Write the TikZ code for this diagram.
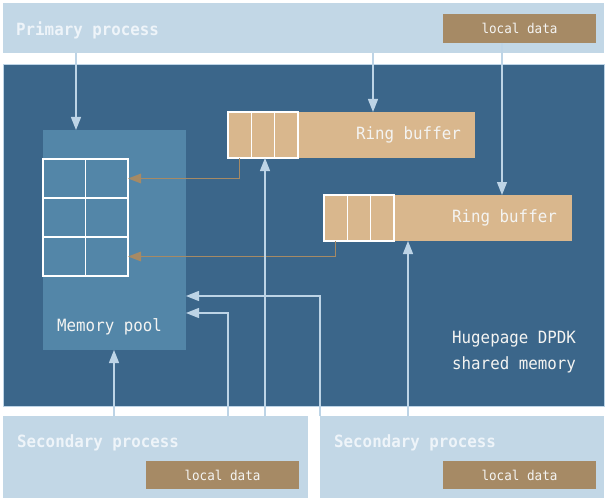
\documentclass[tikz,border=0pt]{standalone}
\usepackage{fontspec}
\setmonofont[FakeStretch=0.935]{DejaVu Sans Mono}
\usetikzlibrary{arrows.meta}
\definecolor{procblue}{HTML}{C2D7E6}
\definecolor{shmem}{HTML}{3B668A}
\definecolor{poolblue}{HTML}{5386A8}
\definecolor{ringtan}{HTML}{D9B78D}
\definecolor{localbrown}{HTML}{A68A65}
\definecolor{arrowblue}{HTML}{BDD4E6}
\definecolor{txt}{HTML}{F4F4F2}
\definecolor{ptxt}{HTML}{EEF4F9}
\begin{document}
\begin{tikzpicture}[x=1pt,y=-1pt,
  box/.style={rectangle, draw=none, inner sep=0pt, outer sep=0pt, anchor=north west},
  cellbox/.style={box, draw=white, line width=1.2pt},
  bigtxt/.style={inner sep=0pt, text=txt, font=\ttfamily\fontsize{16.9}{20}\selectfont},
  headtxt/.style={inner sep=0pt, text=ptxt, font=\ttfamily\bfseries\fontsize{16.9}{20}\selectfont},
  smalltxt/.style={inner sep=0pt, text=txt, font=\ttfamily\fontsize{13.5}{16}\selectfont},
  larr/.style={draw=arrowblue, line width=1.3pt, -{Triangle[length=13pt,width=10pt]}},
  barr/.style={draw=localbrown, line width=1.6pt, -{Triangle[length=13pt,width=9.5pt]}}]
\useasboundingbox (0,0) rectangle (607,500);
\fill[white] (0,0) rectangle (607,500);
% process boxes
\node[box, fill=procblue, minimum width=601pt, minimum height=50pt] (prim) at (3,3) {};
\node[box, fill=localbrown, minimum width=153pt, minimum height=29pt] (ldP) at (443,14) {};
\node[smalltxt] (ldPt) at (ldP.center) {local data};
\node[headtxt, anchor=west] (primt) at (16,30) {Primary process};
% shared memory
\node[box, fill=shmem, draw=arrowblue, line width=0.8pt, minimum width=601pt, minimum height=342pt] (shm) at (3,64) {};
\node[bigtxt, anchor=west] (hp1) at (452,339) {Hugepage DPDK};
\node[bigtxt, anchor=west] (hp2) at (452,365) {shared memory};
% memory pool
\node[box, fill=poolblue, minimum width=143pt, minimum height=220pt] (pool) at (43,130) {};
\node[bigtxt, anchor=west] (poolt) at (57,327) {Memory pool};
\foreach \r/\yy in {1/159,2/198,3/237} {
  \node[cellbox, minimum width=42.5pt, minimum height=39pt] (g\r1) at (43,\yy) {};
  \node[cellbox, minimum width=42.5pt, minimum height=39pt] (g\r2) at (85.5,\yy) {};
}
% ring buffers
\node[box, fill=ringtan, minimum width=247pt, minimum height=46pt] (rb1) at (228,112) {};
\node[cellbox, fill=ringtan, minimum width=23.3pt, minimum height=46pt] (r1a) at (228,112) {};
\node[cellbox, fill=ringtan, minimum width=23.3pt, minimum height=46pt] (r1b) at (251.3,112) {};
\node[cellbox, fill=ringtan, minimum width=23.3pt, minimum height=46pt] (r1c) at (274.6,112) {};
\node[bigtxt, anchor=east] (rb1t) at (461,135) {Ring buffer};
\node[box, fill=ringtan, minimum width=248pt, minimum height=46pt] (rb2) at (324,195) {};
\node[cellbox, fill=ringtan, minimum width=23.3pt, minimum height=46pt] (r2a) at (324,195) {};
\node[cellbox, fill=ringtan, minimum width=23.3pt, minimum height=46pt] (r2b) at (347.3,195) {};
\node[cellbox, fill=ringtan, minimum width=23.3pt, minimum height=46pt] (r2c) at (370.6,195) {};
\node[bigtxt, anchor=east] (rb2t) at (557,218) {Ring buffer};
% secondary processes
\node[box, fill=procblue, minimum width=305pt, minimum height=82pt] (secL) at (3,416) {};
\node[box, fill=procblue, minimum width=284pt, minimum height=82pt] (secR) at (320,416) {};
\node[headtxt, anchor=west] (secLt) at (17,443) {Secondary process};
\node[headtxt, anchor=west] (secRt) at (334,443) {Secondary process};
\node[box, fill=localbrown, minimum width=153pt, minimum height=28pt] (ldL) at (146,461) {};
\node[smalltxt] (ldLt) at (ldL.center) {local data};
\node[box, fill=localbrown, minimum width=153pt, minimum height=28pt] (ldR) at (443,461) {};
\node[smalltxt] (ldRt) at (ldR.center) {local data};
% connector guides
\coordinate (v1) at (76,0);
\coordinate (v2) at (373,0);
\coordinate (v3) at (502,0);
\coordinate (v4) at (265,0);
\coordinate (v5) at (408,0);
\coordinate (v6) at (114,0);
\coordinate (k1) at (228,313);
\coordinate (k2) at (320,296);
% connectors
\draw[larr] (prim.south -| v1) -- (pool.north -| v1);
\draw[larr] (prim.south -| v2) -- (rb1.north -| v2);
\draw[larr] (ldP.south -| v3) -- (rb2.north -| v3);
\draw[barr] (r1a.south) |- (g12.east);
\draw[barr] (r2a.south) |- (g32.east);
\draw[larr] (secL.north -| v4) -- (rb1.south -| v4);
\draw[larr] (secR.north -| v5) -- (rb2.south -| v5);
\draw[larr] (secL.north -| v6) -- (pool.south -| v6);
\draw[larr] (secL.north -| k1) |- (pool.east |- k1);
\draw[larr] (secR.north -| k2) |- (pool.east |- k2);
\end{tikzpicture}
\end{document}
